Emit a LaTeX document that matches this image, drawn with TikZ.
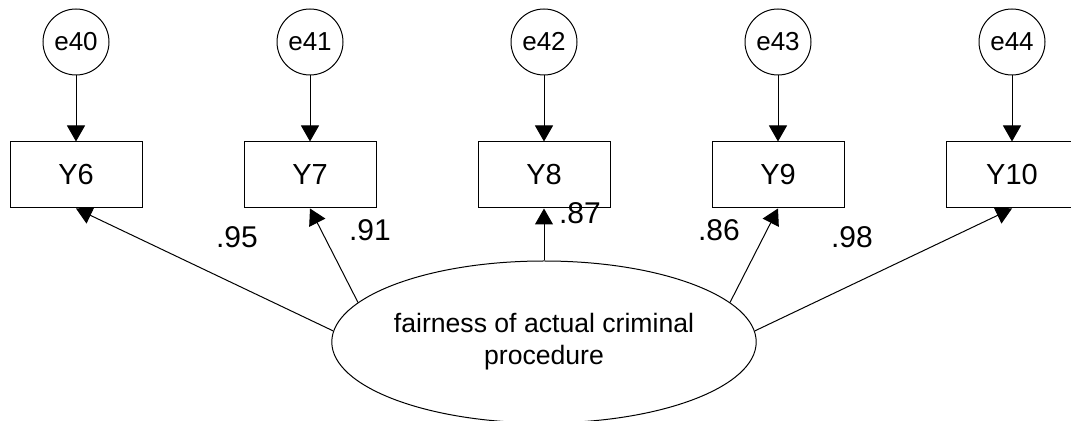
\documentclass[tikz,border=0pt]{standalone}
\usepackage{fontspec}
\setmainfont{Liberation Sans}
\usetikzlibrary{arrows.meta}
\usetikzlibrary{shapes.geometric}
\tikzset{errvar/.style={circle, draw, line width=0.5pt, minimum size=33pt, inner sep=0pt,
    font=\fontsize{13}{14}\selectfont},
obsvar/.style={rectangle, draw, line width=0.5pt, minimum width=66pt, minimum height=33pt,
    inner sep=0pt, font=\fontsize{14.5}{16}\selectfont},
latent/.style={ellipse, draw, line width=0.5pt, minimum width=211pt, minimum height=81pt,
    inner sep=0pt, align=center, font=\fontsize{13.3}{16}\selectfont},
%regression weight label
wlabel/.style={inner sep=0pt, font=\fontsize{15}{16}\selectfont},
path/.style={line width=0.5pt, -{Triangle[length=8pt,width=9pt]}}}

\begin{document}
\begin{tikzpicture}[x=0.5pt,y=-0.5pt]
\useasboundingbox (0,0) rectangle (1071,421);

% error terms and indicators
\foreach \x/\e/\y in {76/40/6, 310/41/7, 544/42/8, 778/43/9, 1012/44/10} {
    \node[errvar] (e\e) at (\x,42) {e\e};
    \node[obsvar] (Y\y) at (\x,175) {Y\y};
    \draw[path] (e\e) -- (Y\y);
}

% latent factor
\node[latent] (F) at (544,342) {fairness of actual criminal\\procedure};

% loadings
\draw[path] (F.177) -- (Y6.south);
\draw[path] (F.168) -- (Y7.south);
\draw[path] (F.90) -- (Y8.south);
\draw[path] (F.12) -- (Y9.south);
\draw[path] (F.3) -- (Y10.south);

%labels
\node[wlabel] (w6) at (237,237) {.95};
\node[wlabel] (w7) at (370,230) {.91};
\node[wlabel] (w8) at (580,213) {.87};
\node[wlabel] (w9) at (719,230) {.86};
\node[wlabel] (w10) at (852,237) {.98};

\end{tikzpicture}
\end{document}
